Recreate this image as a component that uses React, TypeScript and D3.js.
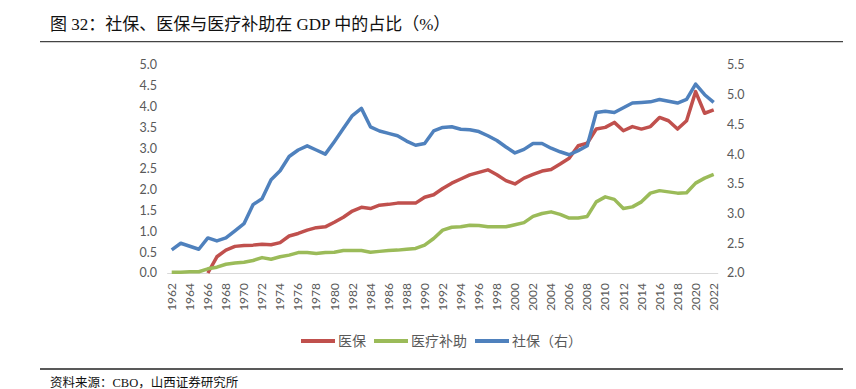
import React from "react";
import * as d3 from "d3";

const years: number[] = [
  1962, 1963, 1964, 1965, 1966, 1967, 1968, 1969, 1970, 1971, 1972, 1973, 1974, 1975, 1976, 1977,
  1978, 1979, 1980, 1981, 1982, 1983, 1984, 1985, 1986, 1987, 1988, 1989, 1990, 1991, 1992, 1993,
  1994, 1995, 1996, 1997, 1998, 1999, 2000, 2001, 2002, 2003, 2004, 2005, 2006, 2007, 2008, 2009,
  2010, 2011, 2012, 2013, 2014, 2015, 2016, 2017, 2018, 2019, 2020, 2021, 2022,
];

// 医保 (left axis)
const medicare: (number | null)[] = [
  null, null, null, null, 0.0, 0.39, 0.55, 0.64, 0.66, 0.67, 0.69, 0.68, 0.73, 0.89, 0.95, 1.03,
  1.09, 1.11, 1.22, 1.34, 1.49, 1.58, 1.55, 1.63, 1.65, 1.68, 1.68, 1.68, 1.82, 1.88, 2.03, 2.16,
  2.26, 2.36, 2.42, 2.48, 2.36, 2.22, 2.14, 2.28, 2.37, 2.45, 2.49, 2.62, 2.76, 3.06, 3.12, 3.46,
  3.5, 3.62, 3.42, 3.52, 3.46, 3.52, 3.74, 3.66, 3.46, 3.66, 4.36, 3.84, 3.92,
];

// 医疗补助 (left axis)
const medicaid: number[] = [
  0.02, 0.02, 0.03, 0.03, 0.1, 0.14, 0.21, 0.24, 0.26, 0.3, 0.37, 0.33, 0.39, 0.43, 0.49, 0.49,
  0.47, 0.49, 0.5, 0.54, 0.54, 0.54, 0.5, 0.52, 0.54, 0.55, 0.57, 0.59, 0.67, 0.83, 1.03, 1.1,
  1.11, 1.15, 1.14, 1.11, 1.11, 1.11, 1.16, 1.21, 1.36, 1.43, 1.47, 1.41, 1.32, 1.32, 1.36, 1.71,
  1.83, 1.77, 1.55, 1.59, 1.71, 1.92, 1.98, 1.95, 1.92, 1.93, 2.16, 2.28, 2.37,
];

// 社保 (right axis)
const socialSecurity: number[] = [
  2.39, 2.5, 2.45, 2.4, 2.59, 2.54, 2.59, 2.71, 2.83, 3.15, 3.25, 3.57, 3.72, 3.96, 4.07, 4.14,
  4.07, 4.0, 4.21, 4.43, 4.65, 4.77, 4.46, 4.39, 4.35, 4.31, 4.22, 4.15, 4.18, 4.39, 4.45, 4.46,
  4.42, 4.41, 4.38, 4.31, 4.23, 4.12, 4.02, 4.08, 4.18, 4.18, 4.1, 4.04, 3.99, 4.06, 4.14, 4.7,
  4.72, 4.7, 4.78, 4.86, 4.87, 4.88, 4.92, 4.89, 4.86, 4.92, 5.18, 5.0, 4.87,
];

const leftTicks: number[] = [0, 0.5, 1, 1.5, 2, 2.5, 3, 3.5, 4, 4.5, 5];
const rightTicks: number[] = [2, 2.5, 3, 3.5, 4, 4.5, 5, 5.5];
const xTickYears: number[] = years.filter((y) => (y - 1962) % 2 === 0);

const seriesNames = ["医保", "医疗补助", "社保（右）"];
const title = "图 32：社保、医保与医疗补助在 GDP 中的占比（%）";
const source = "资料来源：CBO，山西证券研究所";

const COLORS = ["#C0504D", "#9BBB59", "#4F81BD"];
const TICK_FONT = "Lato, 'Noto Sans', sans-serif";
const CJK_FONT = "'Liberation Serif', 'Noto Sans CJK SC', serif";

export default function App() {
  const W = 856;
  const H = 389;
  const plotLeft = 167.2;
  const plotRight = 718.2;
  const yBottom = 273;
  const yTop = 65;

  const x = d3.scaleBand<number>().domain(years).range([plotLeft, plotRight]).padding(0);
  const cx = (yr: number) => (x(yr) as number) + x.bandwidth() / 2;
  const yL = d3.scaleLinear().domain([0, 5]).range([yBottom, yTop]);
  const yR = d3.scaleLinear().domain([2, 5.5]).range([yBottom, yTop]);

  const lineL = d3
    .line<number | null>()
    .defined((d) => d !== null)
    .x((_, i) => cx(years[i]))
    .y((d) => yL(d as number))
    .curve(d3.curveLinear);
  const lineR = d3
    .line<number>()
    .x((_, i) => cx(years[i]))
    .y((d) => yR(d));

  const legendY = 341;
  const legendItems = [
    { name: seriesNames[0], color: COLORS[0], x: 301 },
    { name: seriesNames[1], color: COLORS[1], x: 374 },
    { name: seriesNames[2], color: COLORS[2], x: 475 },
  ];

  return (
    <svg
      width={W}
      height={H}
      style={{ position: "absolute", left: 0, top: 0, background: "#fff" }}
    >
      <rect x={0} y={0} width={W} height={H} fill="#fff" />
      <text x={50} y={29.5} fontSize={17} fontFamily={CJK_FONT} fill="#111">
        {title}
      </text>
      <line x1={40} x2={843} y1={41.7} y2={41.7} stroke="#444" strokeWidth={1.3} />

      {/* x axis line */}
      <line x1={plotLeft} x2={plotRight} y1={yBottom + 0.5} y2={yBottom + 0.5} stroke="#d9d9d9" strokeWidth={1} />

      {/* left ticks */}
      {leftTicks.map((t) => (
        <text
          key={"l" + t}
          x={157}
          y={yL(t)}
          dy="0.35em"
          textAnchor="end"
          fontSize={12.5}
          fontFamily={TICK_FONT}
          fill="#595959"
        >
          {d3.format(".1f")(t)}
        </text>
      ))}
      {/* right ticks */}
      {rightTicks.map((t) => (
        <text
          key={"r" + t}
          x={727}
          y={yR(t)}
          dy="0.35em"
          textAnchor="start"
          fontSize={12.5}
          fontFamily={TICK_FONT}
          fill="#595959"
        >
          {d3.format(".1f")(t)}
        </text>
      ))}
      {/* x ticks */}
      {xTickYears.map((yr) => (
        <text
          key={"x" + yr}
          transform={`translate(${cx(yr)},${283}) rotate(-90)`}
          dy="0.35em"
          textAnchor="end"
          fontSize={12}
          fontFamily={TICK_FONT}
          fill="#595959"
        >
          {yr}
        </text>
      ))}

      {/* series */}
      <path d={lineL(medicare) || ""} fill="none" stroke={COLORS[0]} strokeWidth={3.5} strokeLinejoin="round" />
      <path d={lineL(medicaid) || ""} fill="none" stroke={COLORS[1]} strokeWidth={3.5} strokeLinejoin="round" />
      <path d={lineR(socialSecurity) || ""} fill="none" stroke={COLORS[2]} strokeWidth={3.5} strokeLinejoin="round" />

      {/* legend */}
      {legendItems.map((it) => (
        <g key={it.name}>
          <line x1={it.x} x2={it.x + 34} y1={legendY} y2={legendY} stroke={it.color} strokeWidth={4} />
          <text
            x={it.x + 37}
            y={legendY}
            dy="0.35em"
            fontSize={14}
            fontFamily="'Noto Sans CJK SC', sans-serif"
            fill="#595959"
          >
            {it.name}
          </text>
        </g>
      ))}

      <line x1={40} x2={843} y1={369} y2={369} stroke="#222" strokeWidth={1.3} />
      <text x={50} y={386.5} fontSize={12.5} fontFamily={CJK_FONT} fill="#111">
        {source}
      </text>
    </svg>
  );
}
